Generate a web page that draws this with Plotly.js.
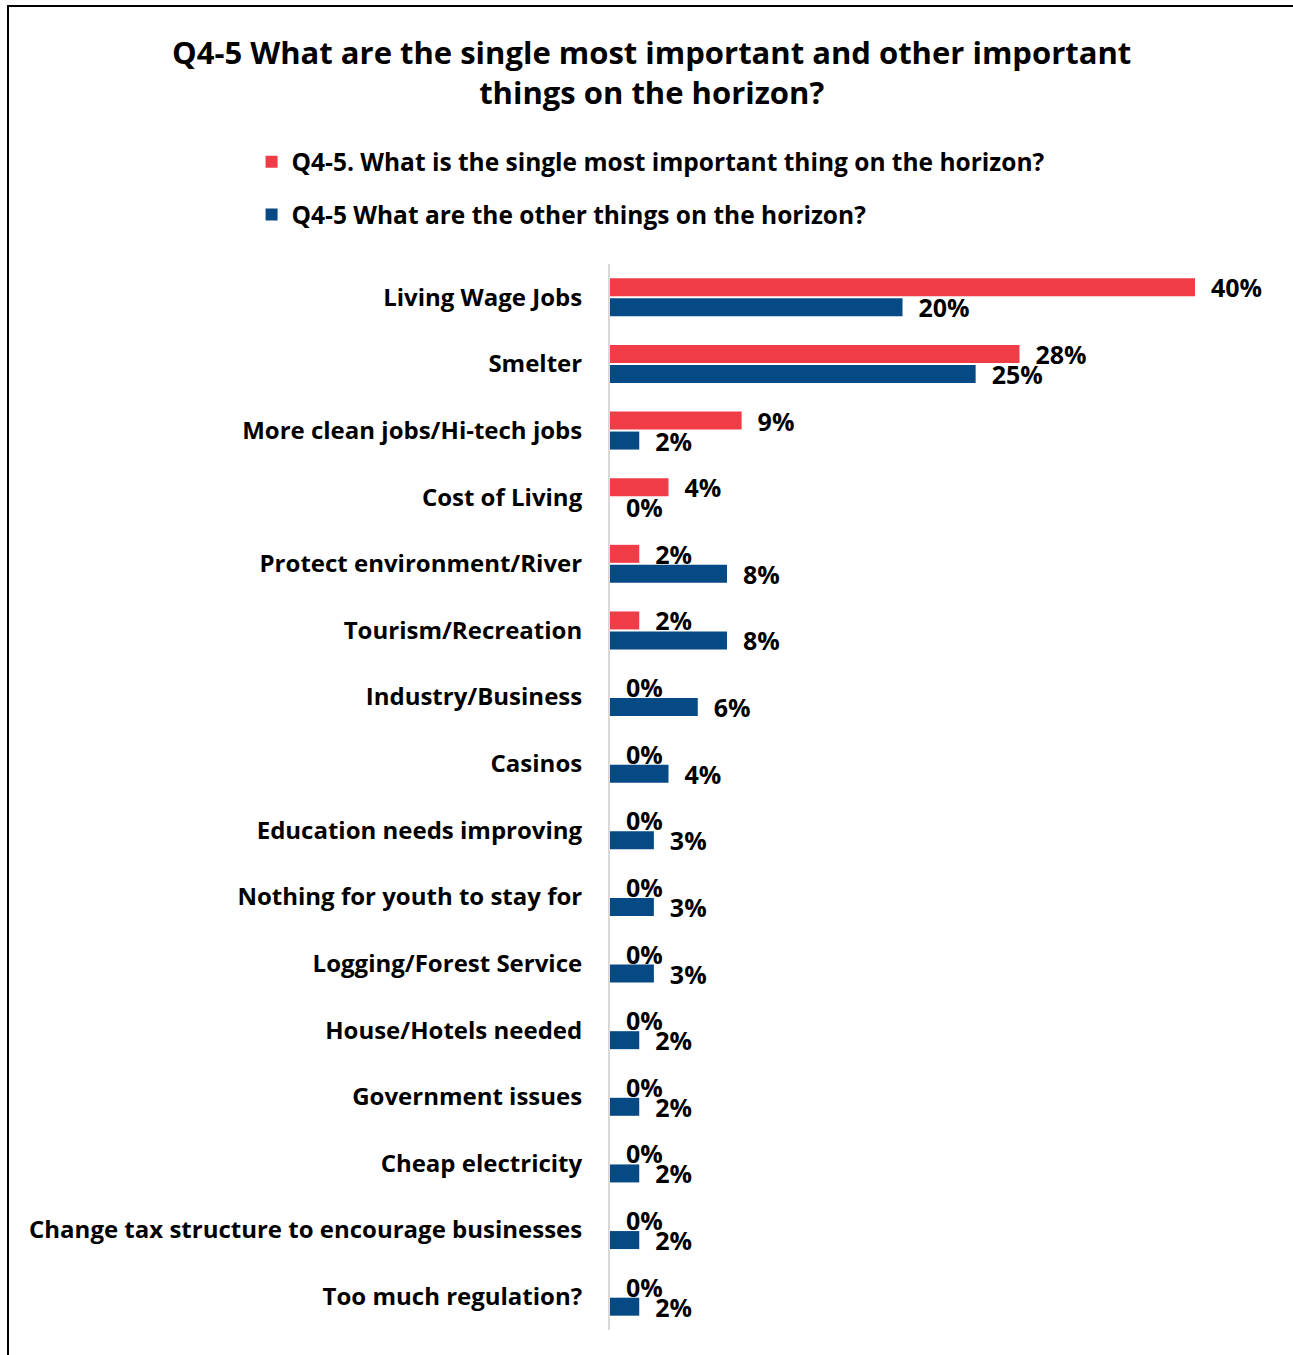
<!DOCTYPE html>
<html>
<head>
<meta charset="utf-8">
<script src="https://cdn.plot.ly/plotly-3.0.1.min.js"></script>
<style>
  html, body { margin: 0; padding: 0; background: #fff; }
  #chart { width: 1293px; height: 1355px; }
  #frame { position: absolute; left: 7px; top: 5px; width: 1300px; height: 1400px;
           border-left: 2px solid #000; border-top: 2px solid #000; pointer-events: none; z-index: 10; }
</style>
</head>
<body>
<div id="frame"></div>
<div id="chart"></div>
<script>
const categories = [
  "Living Wage Jobs", "Smelter", "More clean jobs/Hi-tech jobs", "Cost of Living",
  "Protect environment/River", "Tourism/Recreation", "Industry/Business", "Casinos",
  "Education needs improving", "Nothing for youth to stay for", "Logging/Forest Service",
  "House/Hotels needed", "Government issues", "Cheap electricity",
  "Change tax structure to encourage businesses", "Too much regulation?"
];
const singleMost = [40, 28, 9, 4, 2, 2, 0, 0, 0, 0, 0, 0, 0, 0, 0, 0];
const otherThings = [20, 25, 2, 0, 8, 8, 6, 4, 3, 3, 3, 2, 2, 2, 2, 2];
const seriesNames = [
  "Q4-5. What is the single most important thing on the horizon?",
  "Q4-5 What are the other things on the horizon?"
];
const titleText = "Q4-5 What are the single most important and other important<br>things on the horizon?";

const FONT = "'Open Sans', 'Noto Sans', sans-serif";
const pad = "\u00a0\u00a0";

const traces = [
  {
    type: "bar", orientation: "h", name: seriesNames[0], legendgroup: "a",
    y: categories, x: singleMost,
    marker: { color: "#F03C46", line: { width: 0 } },
    text: singleMost.map(v => pad + v + "%"), textposition: "outside",
    textfont: { family: FONT, size: 25, color: "#000", weight: "bold" },
    constraintext: "none", cliponaxis: false, hoverinfo: "x+y"
  },
  {
    type: "bar", orientation: "h", name: seriesNames[1], legendgroup: "b",
    y: categories, x: otherThings,
    marker: { color: "#064A85", line: { width: 0 } },
    text: otherThings.map(v => pad + v + "%"), textposition: "outside",
    textfont: { family: FONT, size: 25, color: "#000", weight: "bold" },
    constraintext: "none", cliponaxis: false, hoverinfo: "x+y"
  }
];

const layout = {
  width: 1293, height: 1355,
  margin: { l: 610, r: 98, t: 264, b: 25 },
  paper_bgcolor: "#fff", plot_bgcolor: "#fff",
  font: { family: FONT, color: "#000" },
  title: {
    text: titleText, x: 0.504, xref: "container", xanchor: "center",
    y: 0.953, yref: "container", yanchor: "middle",
    font: { family: FONT, size: 31, weight: "bold", color: "#000" }
  },
  barmode: "group", bargap: 0.4, bargroupgap: 0.1,
  showlegend: true,
  legend: {
    x: -0.6127, xanchor: "left", y: 1.117, yanchor: "top",
    orientation: "v", traceorder: "grouped", tracegroupgap: 18,
    font: { family: FONT, size: 24.5, weight: "bold", color: "#000" },
    itemwidth: 30
  },
  xaxis: {
    range: [0, 40], showgrid: false, zeroline: false, showticklabels: false,
    showline: false, ticks: ""
  },
  yaxis: {
    autorange: "reversed", showgrid: false, zeroline: false,
    showline: true, linecolor: "#d9d9d9", linewidth: 2,
    ticks: "", ticklabelstandoff: 21,
    tickfont: { family: FONT, size: 24, weight: "bold", color: "#000" }
  }
};

Plotly.newPlot("chart", traces, layout, { displayModeBar: false, staticPlot: true });
</script>
</body>
</html>
